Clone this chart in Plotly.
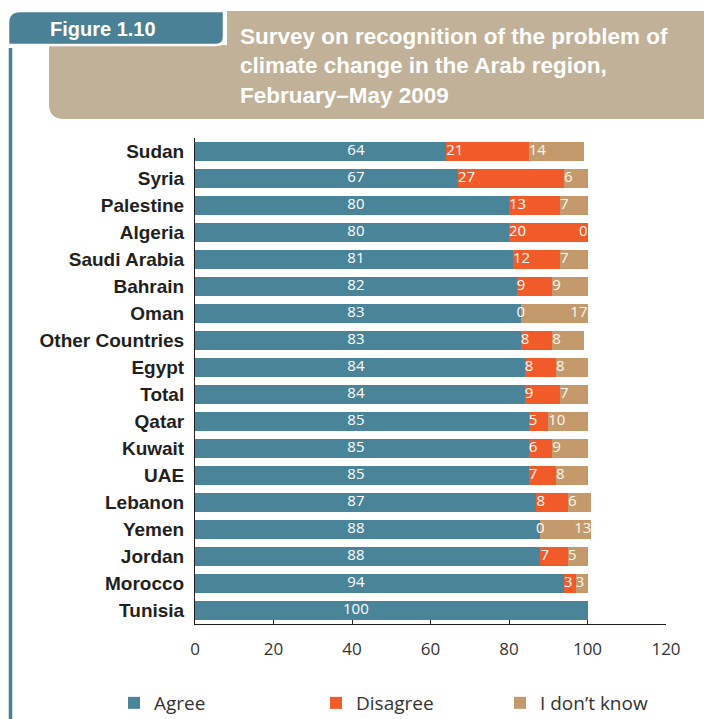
import plotly.graph_objects as go

# Survey responses (%) by country
countries = ["Sudan", "Syria", "Palestine", "Algeria", "Saudi Arabia", "Bahrain", "Oman",
             "Other Countries", "Egypt", "Total", "Qatar", "Kuwait", "UAE", "Lebanon",
             "Yemen", "Jordan", "Morocco", "Tunisia"]
agree = [64, 67, 80, 80, 81, 82, 83, 83, 84, 84, 85, 85, 85, 87, 88, 88, 94, 100]
disagree = [21, 27, 13, 20, 12, 9, 0, 8, 8, 9, 5, 6, 7, 8, 0, 7, 3, None]
dont_know = [14, 6, 7, 0, 7, 9, 17, 8, 8, 7, 10, 9, 8, 6, 13, 5, 3, None]
x_ticks = [0, 20, 40, 60, 80, 100, 120]

TEAL = "#4a8499"
ORANGE = "#f15a29"
TAN = "#c49a6c"
BEIGE = "#c2b199"
DARK = "#231f20"
W, H = 704, 719
M_L, M_R, M_T, M_B = 195, 38, 138, 95
LABEL_FONT = "Liberation Sans, Arial, sans-serif"
NUM_FONT = "Open Sans, Liberation Sans, sans-serif"
AGREE_LABEL_X = 41  # fixed column for the agree labels


def px_x(px):
    return (px - M_L) / (W - M_L - M_R)


def px_y(py):
    return (H - M_B - py) / (H - M_T - M_B)


def path(points):
    return " ".join(points)


fig = go.Figure()

series = [("Agree", agree, TEAL, "legend"), ("Disagree", disagree, ORANGE, "legend2"),
          ("I don\u2019t know", dont_know, TAN, "legend3")]
for name, vals, col, leg in series:
    fig.add_trace(go.Bar(
        y=countries, x=[v if v is not None else 0 for v in vals], name=name,
        orientation="h", marker=dict(color=col, line=dict(width=0)),
        hoverinfo="skip", legend=leg))

# value labels
fig.add_trace(go.Scatter(
    y=countries, x=[AGREE_LABEL_X] * len(countries), mode="text",
    text=[str(v) for v in agree], textposition="middle center",
    textfont=dict(family=NUM_FONT, size=15, color="white"),
    showlegend=False, hoverinfo="skip"))

d_y, d_x, d_t, d_p = [], [], [], []
k_y, k_x, k_t, k_p = [], [], [], []
for c, a, d, k in zip(countries, agree, disagree, dont_know):
    if d is None:
        continue
    d_y.append(c)
    d_x.append(a)
    d_t.append(str(d))
    d_p.append("middle center" if d == 0 else "middle right")
    k_y.append(c)
    k_t.append(str(k))
    if k == 0 or d == 0:
        k_x.append(a + d + k)
        k_p.append("middle left")
    else:
        k_x.append(a + d)
        k_p.append("middle right")

fig.add_trace(go.Scatter(
    y=d_y, x=d_x, mode="text", text=d_t, textposition=d_p,
    textfont=dict(family=NUM_FONT, size=15, color="white"),
    showlegend=False, hoverinfo="skip"))
fig.add_trace(go.Scatter(
    y=k_y, x=k_x, mode="text", text=k_t, textposition=k_p,
    textfont=dict(family=NUM_FONT, size=15, color="#fdf6ec"),
    showlegend=False, hoverinfo="skip"))

# header panel shapes
beige_path = path([
    f"M{px_x(227)},{px_y(11)}", f"L{px_x(704)},{px_y(11)}", f"L{px_x(704)},{px_y(119)}",
    f"L{px_x(64)},{px_y(119)}", f"Q{px_x(49)},{px_y(119)} {px_x(49)},{px_y(104)}",
    f"L{px_x(49)},{px_y(45)}", f"L{px_x(227)},{px_y(45)}", "Z"])
tab_path = path([
    f"M{px_x(8)},{px_y(45)}", f"L{px_x(8)},{px_y(23)}",
    f"Q{px_x(8)},{px_y(11)} {px_x(20)},{px_y(11)}", f"L{px_x(224)},{px_y(11)}",
    f"L{px_x(224)},{px_y(37)}", f"Q{px_x(224)},{px_y(45)} {px_x(216)},{px_y(45)}", "Z"])

shapes = [
    dict(type="path", path=beige_path, xref="paper", yref="paper",
         fillcolor=BEIGE, line=dict(width=0), layer="below"),
    dict(type="path", path=tab_path, xref="paper", yref="paper",
         fillcolor="#4a8197", line=dict(color="white", width=2.5), layer="below"),
    dict(type="line", xref="paper", yref="paper", x0=px_x(10.5), x1=px_x(10.5),
         y0=px_y(48), y1=px_y(719), line=dict(color="#4a8197", width=3.5), layer="below"),
]

annotations = [
    dict(text="<b>Figure 1.10</b>", xref="paper", yref="paper", x=px_x(48), y=px_y(29),
         xanchor="left", yanchor="middle", showarrow=False,
         font=dict(family=LABEL_FONT, size=20, color="white")),
    dict(text="<b>Survey on recognition of the problem of<br>climate change in the Arab region,"
              "<br>February\u2013May 2009</b>",
         xref="paper", yref="paper", x=px_x(238), y=px_y(66), xanchor="left",
         yanchor="middle", align="left", showarrow=False,
         font=dict(family=LABEL_FONT, size=22.5, color="white")),
]

legend_common = dict(orientation="h", xref="container", yref="container",
                     xanchor="left", yanchor="middle", bgcolor="rgba(0,0,0,0)",
                     font=dict(family=NUM_FONT, size=19, color="#333333"))

fig.update_layout(
    width=W, height=H,
    margin=dict(l=M_L, r=M_R, t=M_T, b=M_B),
    paper_bgcolor="white", plot_bgcolor="white",
    barmode="stack", bargap=0.26,
    shapes=shapes, annotations=annotations,
    legend=dict(x=114 / W, y=1 - 703 / H, **legend_common),
    legend2=dict(x=316 / W, y=1 - 703 / H, **legend_common),
    legend3=dict(x=500 / W, y=1 - 703 / H, **legend_common),
    xaxis=dict(range=[0, 120], tickvals=x_ticks, ticks="inside", ticklen=11,
               tickcolor=DARK, tickwidth=1, showline=True, linecolor=DARK, linewidth=1,
               showgrid=False, zeroline=False, layer="below traces",
               ticklabelstandoff=10,
               tickfont=dict(family=NUM_FONT, size=17, color="#333333")),
    yaxis=dict(type="category", categoryorder="array", categoryarray=countries,
               range=[len(countries) - 0.5, -0.5], showline=True, linecolor=DARK,
               linewidth=1, showgrid=False, zeroline=False, ticks="", layer="below traces",
               ticklabelstandoff=6,
               tickfont=dict(family=LABEL_FONT, size=19, color=DARK, weight="bold")),
)

fig.write_html("out.html")
